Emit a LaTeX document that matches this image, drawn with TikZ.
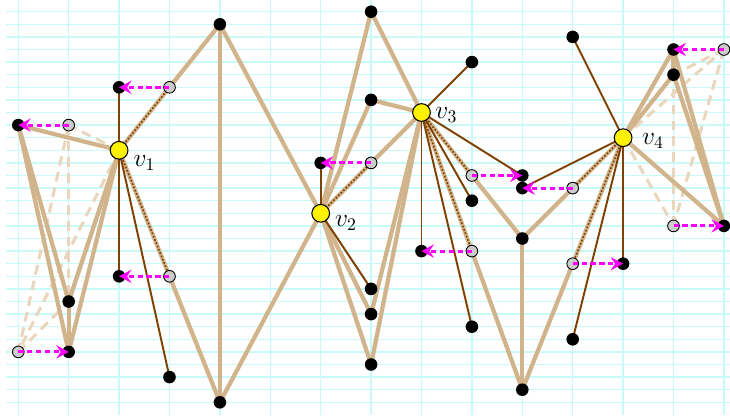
\documentclass[tikz,border=0pt]{standalone}
\usetikzlibrary{arrows.meta}
\definecolor{gridc}{RGB}{200,250,250}
\definecolor{tanc}{RGB}{210,180,140}
\definecolor{brownc}{RGB}{128,64,0}
\definecolor{lighttan}{RGB}{234,214,188}
\definecolor{magc}{RGB}{255,0,255}
\definecolor{grayfill}{RGB}{204,204,204}
\tikzset{
 blk/.style={circle,fill=black,inner sep=0pt,minimum size=7.1pt},
 gry/.style={circle,fill=grayfill,draw=black,line width=0.5pt,inner sep=0pt,minimum size=6.6pt},
 yel/.style={circle,fill=yellow,draw=black,line width=0.6pt,inner sep=0pt,minimum size=10pt},
 tanedge/.style={draw=tanc,line width=2.4pt},
 brnedge/.style={draw=brownc,line width=1.1pt},
 dotedge/.style={draw=brownc,line width=0.9pt,dash pattern=on 1pt off 1pt},
 ghost/.style={draw=lighttan,line width=1.7pt,dash pattern=on 5.5pt off 3.5pt},
 mov/.style={draw=magc,line width=1.7pt,dash pattern=on 3pt off 2pt,-{Stealth[length=7pt,width=7.5pt,inset=2.5pt]}},
 lab/.style={anchor=west,inner sep=0pt,font=\Large},
 gridline/.style={draw=gridc,line width=0.85pt}
}
\begin{document}
\begin{tikzpicture}[x=1cm,y=-0.25cm]
\useasboundingbox (-0.363,-0.929) rectangle (14.121,32.09);
% grid
\foreach \r in {0,...,31} \draw[gridline] (-0.25,\r) -- (14.4,\r);
\foreach \c in {0,...,14} \draw[gridline] (\c,-1) -- (\c,32);
% positions
\path
 (2,11) coordinate (v1) (6,16) coordinate (v2) (8,8) coordinate (v3) (12,10) coordinate (v4)
 (2,6) coordinate (a1) (0,9) coordinate (a2) (1,23) coordinate (a3) (1,27) coordinate (a4)
 (2,21) coordinate (a5) (3,29) coordinate (a6) (4,1) coordinate (a7) (4,31) coordinate (a8)
 (6,12) coordinate (b1) (7,0) coordinate (b2) (7,7) coordinate (b3) (7,22) coordinate (b4)
 (7,24) coordinate (b5) (7,28) coordinate (b6)
 (8,19) coordinate (c1) (9,4) coordinate (c2) (9,15) coordinate (c3) (9,25) coordinate (c4)
 (10,13) coordinate (d1) (10,14) coordinate (d2) (10,18) coordinate (d3) (10,30) coordinate (d4)
 (11,2) coordinate (e1) (11,26) coordinate (e2) (12,20) coordinate (e3)
 (13,3) coordinate (f1) (13,5) coordinate (f2) (14,17) coordinate (f3)
 (3,6) coordinate (g1) (1,9) coordinate (g2) (0,27) coordinate (g3) (3,21) coordinate (g4)
 (7,12) coordinate (g5) (9,13) coordinate (g6) (9,19) coordinate (g7) (11,14) coordinate (g8)
 (11,20) coordinate (g9) (14,3) coordinate (g10) (13,17) coordinate (g11);
% ghost (dashed light tan) edges
\foreach \p/\q in {v1/g2,v1/g3,g2/g3,g3/a3,g2/a3,v4/g10,v4/g11,g10/g11,g10/f2,g11/f2}
  \draw[ghost] (\p) -- (\q);
% tan edges
\foreach \p/\q in {v1/a2,v1/a3,v1/a4,a2/a3,a2/a4,a3/a4,v1/a7,v1/a8,a7/a8,a7/v2,a8/v2,
  v2/b2,v2/b3,b2/v3,b3/v3,v2/v3,v2/b5,v2/b6,v3/b5,v3/b6,v3/d3,v3/d4,d3/d4,d3/v4,d4/v4,
  v4/f1,v4/f2,v4/f3,f1/f2,f1/f3,f2/f3}
  \draw[tanedge] (\p) -- (\q);
% brown dotted overlays
\foreach \p/\q in {v1/g1,v1/g4,v2/g5,v3/g6,v3/g7,v4/g8,v4/g9}
  \draw[dotedge] (\p) -- (\q);
% brown edges
\foreach \p/\q in {v1/a1,v1/a5,v1/a6,v2/b1,v2/b4,v3/c2,v3/c1,v3/c3,v3/c4,v3/d1,v4/e1,v4/d2,v4/e2,v4/e3}
  \draw[brnedge] (\p) -- (\q);
% node discs
\foreach \n in {a1,a2,a3,a4,a5,a6,a7,a8,b1,b2,b3,b4,b5,b6,c1,c2,c3,c4,d1,d2,d3,d4,e1,e2,e3,f1,f2,f3}
  \node[blk] (N\n) at (\n) {};
\foreach \n in {g1,g2,g3,g4,g5,g6,g7,g8,g9,g10,g11}
  \node[gry] (N\n) at (\n) {};
\foreach \n in {v1,v2,v3,v4}
  \node[yel] (N\n) at (\n) {};
% move arrows
\foreach \p/\q in {g1/a1,g2/a2,g3/a4,g4/a5,g5/b1,g6/d1,g7/c1,g8/d2,g9/e3,g10/f1,g11/f3}
  \draw[mov] (N\p.center) -- (N\q.center);
% labels
\node[lab] (L1) at (2.28,11.99) {$v_1$};
\node[lab] (L2) at (6.28,16.78) {$v_2$};
\node[lab] (L3) at (8.27,8.2) {$v_3$};
\node[lab] (L4) at (12.37,10.26) {$v_4$};
\end{tikzpicture}
\end{document}
